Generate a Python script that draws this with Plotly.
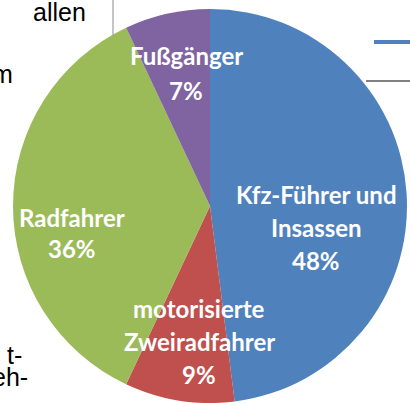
import plotly.graph_objects as go

# Verkehrstote nach Art der Verkehrsbeteiligung
labels = ["Kfz-Führer und Insassen", "motorisierte Zweiradfahrer", "Radfahrer", "Fußgänger"]
label_lines = [["Kfz-Führer und", "Insassen"], ["motorisierte", "Zweiradfahrer"], ["Radfahrer"], ["Fußgänger"]]
shares = [48, 9, 36, 7]
colors = ["#4F81BD", "#C0504D", "#9BBB59", "#8064A2"]

W, H = 410, 403

fig = go.Figure(go.Pie(
    labels=labels,
    values=shares,
    sort=False,
    direction="clockwise",
    rotation=0,
    marker=dict(colors=colors, line=dict(width=0)),
    textinfo="none",
    domain=dict(x=[13 / W, 407 / W], y=[0, 394 / H]),
    showlegend=False,
    hoverinfo="skip",
))

# label placement (pixel centre x, first line y, line step)
label_pos = [(316, 194, 33), (199, 308, 33), (72, 217, 31), (186, 56, 34)]
for lines, share, (cx, cy, step) in zip(label_lines, shares, label_pos):
    for i, line in enumerate(lines + [f"{share}%"]):
        fig.add_annotation(text=line, xref="paper", yref="paper",
                           x=cx / W, y=1 - (cy + i * step) / H,
                           xanchor="center", yanchor="middle", showarrow=False,
                           font=dict(family="Lato", size=24, color="white", weight="bold"))

# remnants of the surrounding slide
fig.add_shape(type="line", xref="paper", yref="paper", layer="below",
              x0=113 / W, x1=113 / W, y0=1, y1=1 - 40 / H,
              line=dict(color="#8C8C8C", width=1))
fig.add_shape(type="line", xref="paper", yref="paper", layer="below",
              x0=374 / W, x1=1, y0=1 - 42 / H, y1=1 - 42 / H,
              line=dict(color="#4F81BD", width=4))
fig.add_shape(type="line", xref="paper", yref="paper", layer="below",
              x0=366 / W, x1=1, y0=1 - 81 / H, y1=1 - 81 / H,
              line=dict(color="#808080", width=2))

for txt, x, y, anchor in [("allen", 31, 12, "left"), ("m", 15, 74, "right"),
                          ("t-", 24, 355, "right"), ("eh-", 30, 377, "right")]:
    fig.add_annotation(text=txt, xref="paper", yref="paper", x=x / W, y=1 - y / H,
                       xanchor=anchor, yanchor="middle", showarrow=False,
                       font=dict(family="Liberation Sans", size=25, color="black"))

fig.update_layout(
    width=W, height=H,
    margin=dict(l=0, r=0, t=0, b=0),
    paper_bgcolor="white",
    plot_bgcolor="white",
)

fig.write_html("out.html", config={"displayModeBar": False}, post_script=(
    "document.body.style.margin='0';"
    "document.body.style.overflow='hidden';"
))
